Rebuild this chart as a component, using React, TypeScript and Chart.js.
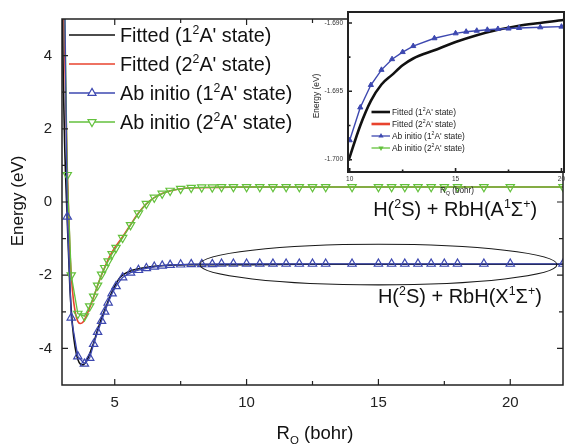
import React, { useEffect, useRef } from "react";
import { Chart, registerables } from "chart.js";
Chart.register(...registerables);

// ---------------- Main panel data (R in bohr, energy in eV) ----------------
const abR = [3.0, 3.2, 3.35, 3.6, 3.85, 4.05, 4.2, 4.35, 4.5, 4.62,
  4.75, 4.9, 5.05, 5.3, 5.6, 5.9, 6.2, 6.5, 6.8, 7.1,
  7.5, 7.9, 8.3, 8.7, 9.05, 9.5, 10, 10.5, 11, 11.5,
  12, 12.5, 13, 14, 15, 15.5, 16, 16.5, 17, 17.5,
  18, 19, 20, 22];
const abState1 = [12.0, -0.40, -3.16, -4.22, -4.42, -4.26, -3.88, -3.55, -3.25, -3.0,
  -2.75, -2.50, -2.30, -2.06, -1.93, -1.86, -1.81, -1.77, -1.74, -1.72,
  -1.71, -1.70, -1.70, -1.70, -1.69, -1.69, -1.69, -1.69, -1.69, -1.69,
  -1.69, -1.69, -1.69, -1.69, -1.69, -1.69, -1.69, -1.69, -1.69, -1.69,
  -1.69, -1.69, -1.69, -1.69];
const abState2 = [10.5, 0.74, -2.0, -3.05, -3.12, -2.85, -2.58, -2.28, -1.98, -1.80,
  -1.62, -1.42, -1.25, -0.98, -0.63, -0.31, -0.05, 0.12, 0.23, 0.31,
  0.36, 0.39, 0.40, 0.40, 0.41, 0.41, 0.41, 0.41, 0.41, 0.41,
  0.41, 0.41, 0.41, 0.41, 0.41, 0.41, 0.41, 0.41, 0.41, 0.41,
  0.41, 0.41, 0.41, 0.41];

const fit1R = [3.0, 3.05, 3.1, 3.2, 3.3, 3.4, 3.5, 3.6, 3.7, 3.8,
  3.9, 4.0, 4.1, 4.2, 4.35, 4.5, 4.65, 4.8, 5.0, 5.2,
  5.4, 5.7, 6.0, 6.5, 7.0, 7.5, 8.0, 9.0, 10, 12,
  14, 17, 22];
const fit1E = [6.2, 3.3, 1.6, -0.5, -2.35, -3.4, -3.98, -4.3, -4.43, -4.45,
  -4.38, -4.24, -4.05, -3.85, -3.5, -3.18, -2.9, -2.62, -2.3, -2.06,
  -1.95, -1.86, -1.81, -1.76, -1.73, -1.72, -1.71, -1.71, -1.71, -1.70,
  -1.70, -1.70, -1.70];
const fit2R = [3.0, 3.05, 3.1, 3.2, 3.3, 3.4, 3.5, 3.6, 3.7, 3.8,
  3.9, 4.0, 4.2, 4.4, 4.6, 4.8, 5.0, 5.3, 5.6, 5.9,
  6.2, 6.5, 6.8, 7.2, 7.6, 8.0, 9.0, 10, 12, 15,
  22];
const fit2E = [9.0, 6.0, 4.2, 0.9, -1.35, -2.45, -3.0, -3.26, -3.32, -3.28,
  -3.15, -2.98, -2.6, -2.18, -1.82, -1.5, -1.25, -0.95, -0.62, -0.3,
  -0.05, 0.12, 0.23, 0.32, 0.37, 0.39, 0.40, 0.41, 0.41, 0.41,
  0.41];

const xTicks = [5, 10, 15, 20];
const xMinorTicks = [7.5, 12.5, 17.5];
const yTicks = [-4, -2, 0, 2, 4];
const yMinorTicks = [-3, -1, 1, 3];

const legendLabels = ["Fitted (1^2A' state)", "Fitted (2^2A' state)", "Ab initio (1^2A' state)", "Ab initio (2^2A' state)"];
const annotationTexts = ["H(^2S) + RbH(A^1\u03A3^+)", "H(^2S) + RbH(X^1\u03A3^+)"];
const annotationPos = [[14.8, -0.39], [14.98, -2.77]];
const ellipseSpec = { cx: 15.0, cy: -1.71, rx: 6.77, ry: 0.555 };
const xTitle = "R_Q (bohr)";
const yTitle = "Energy (eV)";

// ---------------- Inset data ----------------
const insetR = [10, 10.5, 11, 11.5, 12, 12.5, 13, 14, 15, 15.5, 16, 16.5, 17, 17.5, 18, 19, 20];
const insetAb1 = [-1.69858, -1.69618, -1.69454, -1.69343, -1.69265, -1.69213, -1.69169, -1.69112,
  -1.69076, -1.69064, -1.69057, -1.69050, -1.69044, -1.69041, -1.69037, -1.69032, -1.69027];
const insetFitR = [9.95, 10.5, 11, 11.5, 12, 12.5, 13, 14, 15, 16, 17, 18, 19, 20, 20.12];
const insetFit1 = [-1.70005, -1.6975, -1.6957, -1.6945, -1.6938, -1.6931, -1.6926, -1.6920,
  -1.6914, -1.6909, -1.6905, -1.6902, -1.6900, -1.6898, -1.68978];
const insetXTicks = [10, 15, 20];
const insetXMinor = [12.5, 17.5];
const insetYTicks = [-1.7, -1.695, -1.69];
const insetYMinor = [-1.6975, -1.6925];

const FONT = '"Liberation Sans", Arial, Helvetica, sans-serif';
const BLACK = "#111111";
const RED = "#e8432e";
const BLUE = "#3d48b0";
const GREEN = "#63c13c";
const AXIS = "#222222";

type Seg = { t: string; sup?: boolean; sub?: boolean };
function parseRich(s: string): Seg[] {
  const segs: Seg[] = [];
  let buf = "";
  for (let i = 0; i < s.length; i++) {
    const c = s[i];
    if ((c === "^" || c === "_") && i + 1 < s.length) {
      if (buf) { segs.push({ t: buf }); buf = ""; }
      segs.push({ t: s[i + 1], sup: c === "^", sub: c === "_" });
      i++;
    } else buf += c;
  }
  if (buf) segs.push({ t: buf });
  return segs;
}

function drawRich(ctx: CanvasRenderingContext2D, text: string, x: number, y: number, size: number,
  color: string, align: "left" | "center" = "left", weight = "normal") {
  const segs = parseRich(text);
  const small = size * 0.62;
  const fontFor = (s: Seg) => `${weight} ${s.sup || s.sub ? small : size}px ${FONT}`;
  let total = 0;
  const widths = segs.map((s) => { ctx.font = fontFor(s); const w = ctx.measureText(s.t).width; total += w; return w; });
  let cx = align === "center" ? x - total / 2 : x;
  ctx.fillStyle = color;
  ctx.textAlign = "left";
  segs.forEach((s, i) => {
    ctx.font = fontFor(s);
    const dy = s.sup ? -size * 0.42 : s.sub ? size * 0.28 : 0;
    ctx.fillText(s.t, cx, y + dy);
    cx += widths[i];
  });
}

function triangle(ctx: CanvasRenderingContext2D, x: number, y: number, r: number, down: boolean) {
  let a = down ? Math.PI : 0;
  ctx.beginPath();
  for (let k = 0; k < 3; k++) {
    const px = x + Math.sin(a) * r, py = y - Math.cos(a) * r;
    if (k === 0) ctx.moveTo(px, py); else ctx.lineTo(px, py);
    a += (2 * Math.PI) / 3;
  }
  ctx.closePath();
}

function drawFrameTicks(chart: any, width: number, major: number, minor: number,
  xt: number[], xm: number[], yt: number[], ym: number[], sides: { top: boolean; right: boolean }) {
  const { ctx, chartArea: a, scales } = chart;
  const xs = scales.x, ys = scales.y;
  ctx.save();
  ctx.strokeStyle = AXIS;
  ctx.lineWidth = width;
  ctx.strokeRect(a.left, a.top, a.right - a.left, a.bottom - a.top);
  ctx.lineWidth = Math.max(1, width * 0.8);
  ctx.beginPath();
  const xt2 = xt.map((v) => [v, major]).concat(xm.map((v) => [v, minor]));
  const yt2 = yt.map((v) => [v, major]).concat(ym.map((v) => [v, minor]));
  xt2.forEach(([v, len]) => {
    const px = xs.getPixelForValue(v);
    ctx.moveTo(px, a.bottom); ctx.lineTo(px, a.bottom - len);
    if (sides.top) { ctx.moveTo(px, a.top); ctx.lineTo(px, a.top + len); }
  });
  yt2.forEach(([v, len]) => {
    const py = ys.getPixelForValue(v);
    ctx.moveTo(a.left, py); ctx.lineTo(a.left + len, py);
    if (sides.right) { ctx.moveTo(a.right, py); ctx.lineTo(a.right - len, py); }
  });
  ctx.stroke();
  ctx.restore();
}

const mainPlugin = {
  id: "mainDecor",
  afterDraw(chart: any) {
    const { ctx, scales } = chart;
    const xs = scales.x, ys = scales.y;
    drawFrameTicks(chart, 1.5, 6, 4, xTicks, xMinorTicks, yTicks, yMinorTicks, { top: true, right: true });
    ctx.save();
    // ellipse
    const cx = xs.getPixelForValue(ellipseSpec.cx), cy = ys.getPixelForValue(ellipseSpec.cy);
    const rx = Math.abs(xs.getPixelForValue(ellipseSpec.cx + ellipseSpec.rx) - cx);
    const ry = Math.abs(ys.getPixelForValue(ellipseSpec.cy + ellipseSpec.ry) - cy);
    ctx.beginPath();
    ctx.ellipse(cx, cy, rx, ry, 0, 0, Math.PI * 2);
    ctx.strokeStyle = "#1a1a1a";
    ctx.lineWidth = 1.1;
    ctx.stroke();
    // annotations
    ctx.textBaseline = "alphabetic";
    annotationTexts.forEach((t, i) => {
      const [ax, ay] = annotationPos[i];
      drawRich(ctx, t, xs.getPixelForValue(ax), ys.getPixelForValue(ay), 20, "#111");
    });
    // legend
    const items = [
      { color: BLACK, w: 1.6, marker: 0 },
      { color: RED, w: 1.6, marker: 0 },
      { color: BLUE, w: 1.4, marker: 1 },
      { color: GREEN, w: 1.4, marker: 2 },
    ];
    items.forEach((it, i) => {
      const y = 35 + i * 29;
      ctx.strokeStyle = it.color;
      ctx.lineWidth = it.w;
      ctx.beginPath(); ctx.moveTo(69, y); ctx.lineTo(115, y); ctx.stroke();
      if (it.marker) {
        triangle(ctx, 92, y, 4.6, it.marker === 2);
        ctx.fillStyle = "#fff"; ctx.fill();
        ctx.lineWidth = 1.2; ctx.stroke();
      }
      drawRich(ctx, legendLabels[i], 120, y + 7, 19.8, "#111");
    });
    // axis titles
    drawRich(ctx, xTitle, 315, 439, 18.5, "#111", "center");
    ctx.translate(18, 201);
    ctx.rotate(-Math.PI / 2);
    ctx.textBaseline = "middle";
    drawRich(ctx, yTitle, 0, 0, 17, "#111", "center");
    ctx.restore();
  },
};

const insetPlugin = {
  id: "insetDecor",
  beforeDraw(chart: any) {
    const { ctx, chartArea: a } = chart;
    ctx.save();
    ctx.fillStyle = "#fff";
    ctx.fillRect(a.left, a.top, a.right - a.left, a.bottom - a.top);
    ctx.restore();
  },
  afterDraw(chart: any) {
    const { ctx } = chart;
    drawFrameTicks(chart, 2, 4, 2.5, insetXTicks, insetXMinor, insetYTicks, insetYMinor, { top: false, right: false });
    ctx.save();
    const items = [
      { color: BLACK, w: 2.6, marker: 0 },
      { color: RED, w: 2.6, marker: 0 },
      { color: BLUE, w: 1.3, marker: 1 },
      { color: GREEN, w: 1.3, marker: 2 },
    ];
    ctx.textBaseline = "alphabetic";
    items.forEach((it, i) => {
      const y = 112 + i * 12;
      ctx.strokeStyle = it.color;
      ctx.lineWidth = it.w;
      ctx.beginPath(); ctx.moveTo(71.5, y); ctx.lineTo(90, y); ctx.stroke();
      if (it.marker) {
        triangle(ctx, 81, y, 3, it.marker === 2);
        ctx.fillStyle = it.color; ctx.fill();
      }
      drawRich(ctx, legendLabels[i], 92, y + 2.9, 8.4, "#222");
    });
    drawRich(ctx, xTitle, 157, 193, 8.2, "#222", "center");
    ctx.translate(17, 96);
    ctx.rotate(-Math.PI / 2);
    ctx.textBaseline = "middle";
    drawRich(ctx, yTitle, 0, 0, 8.4, "#222", "center");
    ctx.restore();
  },
};

function pts(xs: number[], ys: number[]) {
  return xs.map((x, i) => ({ x, y: ys[i] }));
}

function mainConfig(): any {
  return {
    type: "line",
    data: {
      datasets: [
        { label: "Ab initio 1", data: pts(abR, abState1), borderColor: BLUE, borderWidth: 1.3,
          pointStyle: "triangle", pointRadius: 4.8, pointBorderColor: BLUE, pointBackgroundColor: "rgba(0,0,0,0)",
          pointBorderWidth: 1.2, tension: 0, order: 0 },
        { label: "Ab initio 2", data: pts(abR, abState2), borderColor: GREEN, borderWidth: 1.3,
          pointStyle: "triangle", pointRotation: 180, pointRadius: 4.8, pointBorderColor: GREEN,
          pointBackgroundColor: "rgba(0,0,0,0)", pointBorderWidth: 1.2, tension: 0, order: 0 },
        { label: "Fitted 1", data: pts(fit1R, fit1E), borderColor: BLACK, borderWidth: 1.6,
          pointRadius: 0, cubicInterpolationMode: "monotone", order: 1 },
        { label: "Fitted 2", data: pts(fit2R, fit2E), borderColor: RED, borderWidth: 1.6,
          pointRadius: 0, cubicInterpolationMode: "monotone", order: 1 },
      ],
    },
    options: {
      animation: false,
      responsive: false,
      devicePixelRatio: 1,
      layout: { padding: { top: 12, right: 2, left: 0, bottom: 0 } },
      plugins: { legend: { display: false }, tooltip: { enabled: false } },
      scales: {
        x: {
          type: "linear", min: 3, max: 22,
          grid: { display: false, drawTicks: false }, border: { display: false },
          ticks: { font: { size: 15, family: FONT }, color: "#222", padding: 9, maxRotation: 0, autoSkip: false },
          afterBuildTicks: (s: any) => { s.ticks = xTicks.map((v) => ({ value: v })); },
          afterFit: (s: any) => { s.height = 59; },
        },
        y: {
          type: "linear", min: -5, max: 5,
          grid: { display: false, drawTicks: false }, border: { display: false },
          ticks: { font: { size: 15, family: FONT }, color: "#222", padding: 10, autoSkip: false,
            callback: (v: any) => String(v) },
          afterBuildTicks: (s: any) => { s.ticks = yTicks.map((v) => ({ value: v })); },
          afterFit: (s: any) => { s.width = 62; },
        },
      },
    },
    plugins: [mainPlugin],
  };
}

function insetConfig(): any {
  return {
    type: "line",
    data: {
      datasets: [
        { label: "Ab initio 1", data: pts(insetR, insetAb1), borderColor: BLUE, borderWidth: 1.4,
          pointStyle: "triangle", pointRadius: 3, pointBorderColor: BLUE, pointBackgroundColor: BLUE,
          pointBorderWidth: 1, tension: 0, order: 0 },
        { label: "Fitted 1", data: pts(insetFitR, insetFit1), borderColor: BLACK, borderWidth: 2.6,
          pointRadius: 0, cubicInterpolationMode: "monotone", order: 1 },
      ],
    },
    options: {
      animation: false,
      responsive: false,
      devicePixelRatio: 1,
      layout: { padding: { top: 12, right: 2, left: 0, bottom: 0 } },
      plugins: { legend: { display: false }, tooltip: { enabled: false } },
      scales: {
        x: {
          type: "linear", min: 9.92, max: 20.12,
          grid: { display: false, drawTicks: false }, border: { display: false },
          ticks: { font: { size: 6.5, family: FONT }, color: "#333", padding: 3, maxRotation: 0, autoSkip: false },
          afterBuildTicks: (s: any) => { s.ticks = insetXTicks.map((v) => ({ value: v })); },
          afterFit: (s: any) => { s.height = 28; },
        },
        y: {
          type: "linear", min: -1.7009, max: -1.6892,
          grid: { display: false, drawTicks: false }, border: { display: false },
          ticks: { font: { size: 6.5, family: FONT }, color: "#333", padding: 5, autoSkip: false,
            callback: (v: any) => Number(v).toFixed(3) },
          afterBuildTicks: (s: any) => { s.ticks = insetYTicks.map((v) => ({ value: v })); },
          afterFit: (s: any) => { s.width = 48; },
        },
      },
    },
    plugins: [insetPlugin],
  };
}

export default function App() {
  const mainRef = useRef<HTMLCanvasElement>(null);
  const insetRef = useRef<HTMLCanvasElement>(null);
  useEffect(() => {
    const c1 = new Chart(mainRef.current as HTMLCanvasElement, mainConfig());
    const c2 = new Chart(insetRef.current as HTMLCanvasElement, insetConfig());
    return () => { c1.destroy(); c2.destroy(); };
  }, []);
  return (
    <div style={{ position: "fixed", left: 0, top: 0, width: 569, height: 444, background: "#fff", overflow: "hidden" }}>
      <canvas ref={mainRef} width={569} height={444}
        style={{ position: "absolute", left: 0, top: 0, width: 569, height: 444 }} />
      <canvas ref={insetRef} width={269} height={200}
        style={{ position: "absolute", left: 300, top: 0, width: 269, height: 200 }} />
    </div>
  );
}
